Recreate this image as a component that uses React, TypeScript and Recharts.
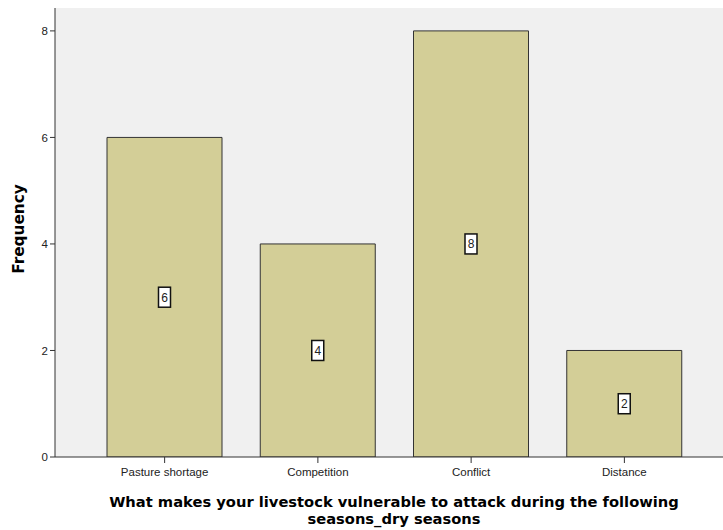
import React from "react";
import {
  BarChart,
  Bar,
  XAxis,
  YAxis,
  CartesianGrid,
  LabelList,
} from "recharts";

const categories = ["Pasture shortage", "Competition", "Conflict", "Distance"];
const frequencies = [6, 4, 8, 2];
const yTicks = [0, 2, 4, 6, 8];
const xTitleLines = [
  "What makes your livestock vulnerable to attack during the following",
  "seasons_dry seasons",
];

const chartData = categories.map((name, i) => ({ name, value: frequencies[i] }));

const BG = "#F0F0F0";
const BAR = "#D3CE97";
const INK = "#000000";

const ValueBox = (props: any) => {
  const { x, y, width, height, value } = props;
  const cx = x + width / 2;
  const cy = y + height / 2;
  return (
    <g>
      <rect x={cx - 6} y={cy - 10} width={12} height={20} fill="#fff" stroke="#111" strokeWidth={1.5} />
      <text
        x={cx}
        y={cy + 4.5}
        textAnchor="middle"
        fontFamily="Liberation Sans, Arial, sans-serif"
        fontSize={12}
        fill="#222"
      >
        {value}
      </text>
    </g>
  );
};

const XTitle = () => (
  <text
    textAnchor="middle"
    fontFamily="DejaVu Sans, sans-serif"
    fontWeight="bold"
    fontSize={14.7}
    fill={INK}
  >
    <tspan x={394} y={507}>{xTitleLines[0]}</tspan>
    <tspan x={394} y={524}>{xTitleLines[1]}</tspan>
  </text>
);

const YTitle = () => (
  <text
    x={24}
    y={229}
    transform="rotate(-90 24 229)"
    textAnchor="middle"
    fontFamily="DejaVu Sans, sans-serif"
    fontWeight="bold"
    fontSize={15.3}
    fill={INK}
  >
    Frequency
  </text>
);

export default function App() {
  return (
    <div style={{ position: "absolute", left: 0, top: 0, background: "#fff" }}>
      <BarChart
        width={723}
        height={530}
        data={chartData}
        margin={{ top: 8, right: 0, bottom: 0, left: 0 }}
        barCategoryGap={0}
      >
        <CartesianGrid horizontal={false} vertical={false} fill={BG} />
        <XAxis
          xAxisId="top"
          orientation="top"
          dataKey="name"
          height={0}
          tick={false}
          tickLine={false}
          stroke="#8a8a8a"
        />
        <XAxis
          dataKey="name"
          height={73}
          padding={{ left: 33, right: 22 }}
          tickSize={6}
          tickMargin={5}
          stroke="#333"
          tick={{ fontSize: 11.5, fontFamily: "Liberation Sans, Arial, sans-serif", fill: "#222" }}
          label={<XTitle />}
        />
        <YAxis
          width={55}
          domain={[0, 8.43]}
          ticks={yTicks}
          allowDataOverflow
          tickSize={5}
          tickMargin={2}
          stroke="#333"
          tick={{ fontSize: 11.5, fontFamily: "Liberation Sans, Arial, sans-serif", fill: "#222" }}
          label={<YTitle />}
        />
        <Bar
          dataKey="value"
          fill={BAR}
          stroke="#333"
          strokeWidth={1}
          barSize={115}
          isAnimationActive={false}
        >
          <LabelList dataKey="value" content={<ValueBox />} />
        </Bar>
      </BarChart>
    </div>
  );
}
